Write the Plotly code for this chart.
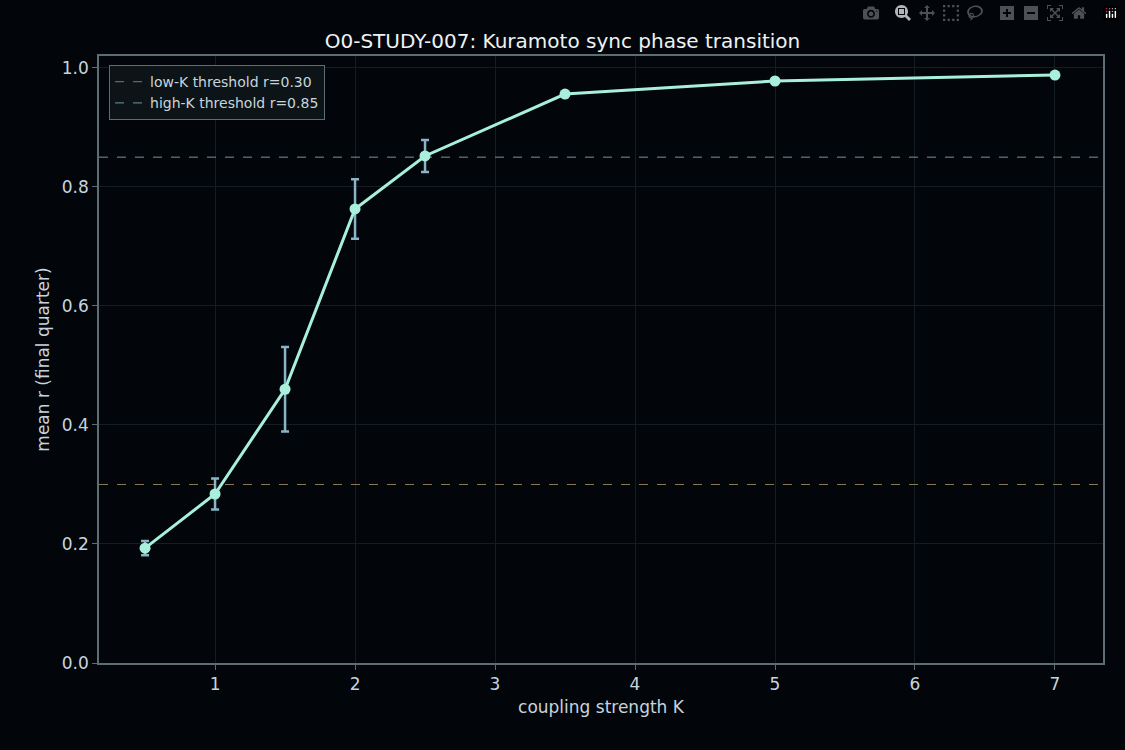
import plotly.graph_objects as go

# coupling strength vs mean order parameter
k_vals = [0.5, 1, 1.5, 2, 2.5, 3.5, 5, 7]
r_mean = [0.193, 0.284, 0.460, 0.763, 0.852, 0.956, 0.978, 0.988]
r_err = [0.012, 0.026, 0.071, 0.050, 0.027, 0, 0, 0]
low_thr = 0.30
high_thr = 0.85

bg = "#02060a"
fig = go.Figure()

# threshold lines (as traces so they show in legend)
fig.add_trace(go.Scatter(
    x=[0.171, 7.343], y=[low_thr, low_thr], mode="lines",
    line=dict(color="#8a7a5a", width=1, dash="dash"),
    name=f"low-K threshold r={low_thr:.2f}"))
fig.add_trace(go.Scatter(
    x=[0.171, 7.343], y=[high_thr, high_thr], mode="lines",
    line=dict(color="#6f9a96", width=1, dash="dash"),
    name=f"high-K threshold r={high_thr:.2f}"))

fig.add_trace(go.Scatter(
    x=k_vals, y=r_mean, mode="lines+markers",
    line=dict(color="#a8f0dc", width=3),
    marker=dict(size=11, color="#a8f0dc"),
    error_y=dict(type="data", array=r_err, color="#8ab4c8", thickness=2.5, width=4),
    showlegend=False))

axis_style = dict(gridcolor="#151c22", zeroline=False, showline=True, mirror=True,
                  linecolor="#5a6e74", linewidth=1.5, ticks="outside", tickcolor="#5a6e74",
                  tickfont=dict(size=17), title_font=dict(size=17))

fig.update_layout(
    width=1125, height=750,
    paper_bgcolor=bg, plot_bgcolor=bg,
    font=dict(family="DejaVu Sans", color="#c8d4dc", size=16),
    title=dict(text="O0-STUDY-007: Kuramoto sync phase transition", x=0.5, y=0.955,
               font=dict(size=20, color="#eef2f5")),
    margin=dict(l=99, r=22, t=56, b=87),
    xaxis=dict(title=dict(text="coupling strength K", standoff=8), range=[0.171, 7.343],
               tickvals=[1, 2, 3, 4, 5, 6, 7], **axis_style),
    yaxis=dict(title=dict(text="mean r (final quarter)", standoff=8), range=[0, 1.02],
               tickvals=[0, 0.2, 0.4, 0.6, 0.8, 1.0], tickformat=".1f", **axis_style),
    legend=dict(x=0.01, y=0.985, xanchor="left", yanchor="top",
                bgcolor="#0c1418", bordercolor="#5a6e74", borderwidth=1,
                font=dict(size=14, color="#c8d4dc")),
)

fig.write_html("out.html",
               post_script="document.body.style.margin='0';document.body.style.background='#02060a';")
